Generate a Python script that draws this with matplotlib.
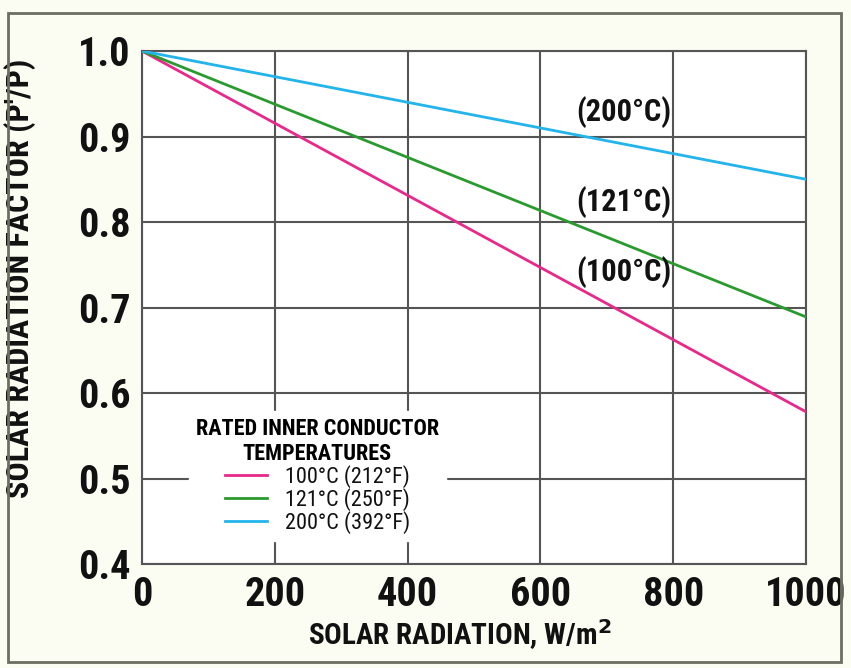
import matplotlib
matplotlib.use("Agg")
import matplotlib.pyplot as plt
from matplotlib.patches import Rectangle
from matplotlib import font_manager

names = {f.name for f in font_manager.fontManager.ttflist}
FONT = 'Roboto'
for cand in ['Liberation Sans Narrow', 'Roboto Condensed', 'Roboto']:
    if cand in names:
        FONT = cand
        break
plt.rcParams['font.family'] = [FONT, 'DejaVu Sans']

# Data
radiation = [0, 1000]
series_labels = ['100°C (212°F)', '121°C (250°F)', '200°C (392°F)']
end_labels = ['(100°C)', '(121°C)', '(200°C)']
factor_100 = [1.0, 0.578]
factor_121 = [1.0, 0.689]
factor_200 = [1.0, 0.850]
label_y = [0.742, 0.823, 0.929]
colors = ['#e8288a', '#2a9a2e', '#22b4ea']
xticks = [0, 200, 400, 600, 800, 1000]
yticks = [0.4, 0.5, 0.6, 0.7, 0.8, 0.9, 1.0]

fig = plt.figure(figsize=(8.51, 6.68), dpi=100, facecolor='#fbfcf2')
ax = fig.add_axes([142/851, 1-564/668, (806-142)/851, (564-51)/668])
ax.set_facecolor('white')

fig.patches.append(Rectangle((8/851, 1-662/668), (841-8)/851, (662-13)/668,
                             transform=fig.transFigure, fill=False,
                             edgecolor='#6b6e60', linewidth=2))

for ys, c, lab in zip([factor_100, factor_121, factor_200], colors, series_labels):
    ax.plot(radiation, ys, color=c, linewidth=2, label=lab, zorder=3)

for t, y in zip(end_labels, label_y):
    ax.text(798, y, t, ha='right', va='center', fontsize=22, fontweight='bold',
            color='#111111', zorder=4)

ax.set_xlim(0, 1000)
ax.set_ylim(0.4, 1.0)
ax.set_xticks(xticks)
ax.set_yticks(yticks)
ax.set_xticklabels([str(v) for v in xticks])
ax.set_yticklabels([f'{v:.1f}' for v in yticks])
ax.tick_params(length=0, labelsize=29, labelcolor='#111111')
ax.tick_params(axis='x', pad=9)
ax.tick_params(axis='y', pad=8)
for lbl in ax.get_xticklabels() + ax.get_yticklabels():
    lbl.set_fontweight('bold')
ax.grid(True, color='#555555', linewidth=1.5, zorder=1)
ax.set_axisbelow(True)
for s in ax.spines.values():
    s.set_color('#555555')
    s.set_linewidth(1.5)

ax.set_xlabel('SOLAR RADIATION, W/m$^\\mathbf{2}$', fontsize=21, fontweight='bold',
              color='#111111', va='center')
ax.xaxis.set_label_coords(0.479, -0.1385)
ax.set_ylabel("SOLAR RADIATION FACTOR (P'/P)", fontsize=23, fontweight='bold',
              color='#111111', va='center')
ax.yaxis.set_label_coords(-0.183, 0.556)

leg = ax.legend(loc='upper left', bbox_to_anchor=(36/664, 1-(400-51)/513),
                title='RATED INNER CONDUCTOR\nTEMPERATURES', fontsize=16,
                title_fontproperties={'size': 16, 'weight': 'bold', 'family': FONT},
                frameon=True, framealpha=1, facecolor='white', edgecolor='white',
                handlelength=1.9, handletextpad=0.8, labelspacing=0.0,
                borderpad=0.3, fancybox=False, alignment='center')
leg.get_title().set_multialignment('center')
leg.set_zorder(5)
for t in leg.get_texts():
    t.set_color('#111111')

fig.savefig('out.png', dpi=100, facecolor=fig.get_facecolor())
